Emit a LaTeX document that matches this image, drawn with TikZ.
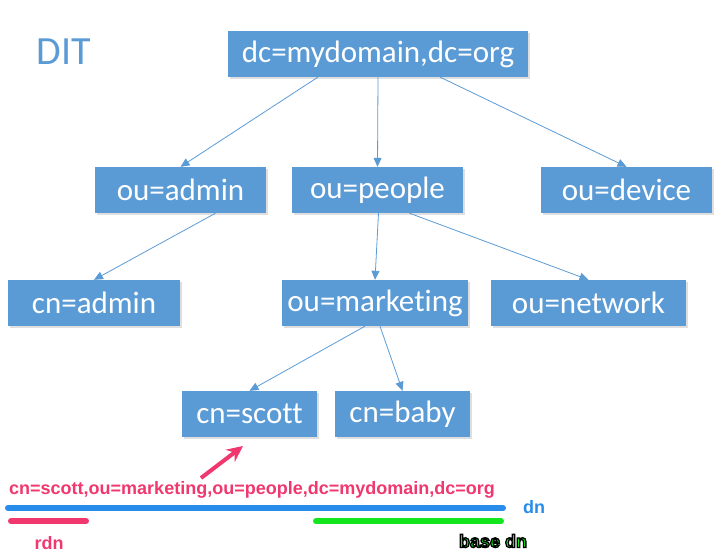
\documentclass[tikz,border=0pt]{standalone}
\usepackage{fontspec}
\setmainfont{Carlito}[Ligatures=NoCommon]
\newfontfamily\roundfont{Liberation Sans}
\usetikzlibrary{arrows.meta,shadows}
\definecolor{boxblue}{RGB}{91,155,213}
\definecolor{dnblue}{RGB}{40,140,235}
\definecolor{rdnpink}{RGB}{240,55,110}
\definecolor{basegreen}{RGB}{20,230,30}
\newcommand{\outlinetext}[1]{\special{pdf:literal direct 2 Tr 1.3 w 0 0 0 RG}#1\special{pdf:literal direct 0 Tr}}
\begin{document}
\begin{tikzpicture}[x=1pt,y=-1pt,
  box/.style={fill=boxblue,text=white,minimum height=46pt,inner sep=0pt,
    font=\fontsize{31}{31}\selectfont,
    drop shadow={shadow xshift=1.5pt,shadow yshift=-2pt,opacity=0.25}},
  link/.style={draw=boxblue,line width=0.8pt,-{Triangle[length=9pt,width=8pt]}},
  lbl/.style={font=\roundfont\bfseries\fontsize{18}{18}\selectfont,inner sep=0pt},
  bar/.style={line width=6pt,line cap=round}]
\useasboundingbox (0,0) rectangle (728,557);
\node[text=boxblue,font=\fontsize{40}{40}\selectfont,anchor=west] (dit) at (33,52) {DIT};
\node[box,minimum width=300pt] (root) at (378,54) {dc=mydomain,dc=org};
\node[box,minimum width=171pt] (oadmin) at (180.5,190) {ou=admin};
\node[box,minimum width=171pt] (opeople) at (377.5,190) {ou=people};
\node[box,minimum width=171pt] (odevice) at (626.5,190) {ou=device};
\node[box,minimum width=172pt] (cadmin) at (94,303) {cn=admin};
\node[box,minimum width=186pt] (omkt) at (375,303) {ou=marketing};
\node[box,minimum width=195pt] (onet) at (588.5,303) {ou=network};
\node[box,minimum width=135pt] (cscott) at (249.5,414) {cn=scott};
\node[box,minimum width=135pt] (cbaby) at (402.5,414) {cn=baby};
\draw[link] (root.south west) ++(90pt,0) coordinate (r1) -- (oadmin.north);
\draw[link] (root.south) -- (opeople.north);
\draw[link] (root.south east) ++(-88pt,0) coordinate (r3) -- (odevice.north);
\draw[link] (oadmin.south) ++(35pt,0) coordinate (a1) -- (cadmin.north);
\draw[link] (opeople.south) ++(1pt,0) coordinate (p1) -- (omkt.north);
\draw[link] (opeople.south) ++(32pt,0) coordinate (p2) -- (onet.north);
\draw[link] (omkt.south) ++(-10pt,0) coordinate (m1) -- (cscott.north);
\draw[link] (omkt.south) ++(5pt,0) coordinate (m2) -- (cbaby.north);
% DN text
\node[lbl,text=rdnpink,anchor=west] (dntext) at (9,490) {cn=scott,ou=marketing,ou=people,dc=mydomain,dc=org};
\coordinate (pa) at (201,478);
\coordinate (pb) at (243,446);
\draw[rdnpink,line width=4pt,-{Stealth[length=16pt,width=15pt]}] (pa) -- (pb);
\coordinate (b1) at (8,508);
\coordinate (b2) at (503,508);
\draw[bar,dnblue] (b1) -- (b2);
\node[lbl,text=dnblue,anchor=west] (dn) at (523,507) {dn};
\coordinate (q1) at (11,521);
\coordinate (q2) at (86,521);
\draw[bar,rdnpink] (q1) -- (q2);
\node[lbl,text=rdnpink] (rdn) at (49,543) {rdn};
\coordinate (g1) at (316,521);
\coordinate (g2) at (501,521);
\draw[bar,basegreen] (g1) -- (g2);
\node[lbl,text=basegreen] (basedn) at (493,541) {\outlinetext{base dn}};
\end{tikzpicture}
\end{document}
